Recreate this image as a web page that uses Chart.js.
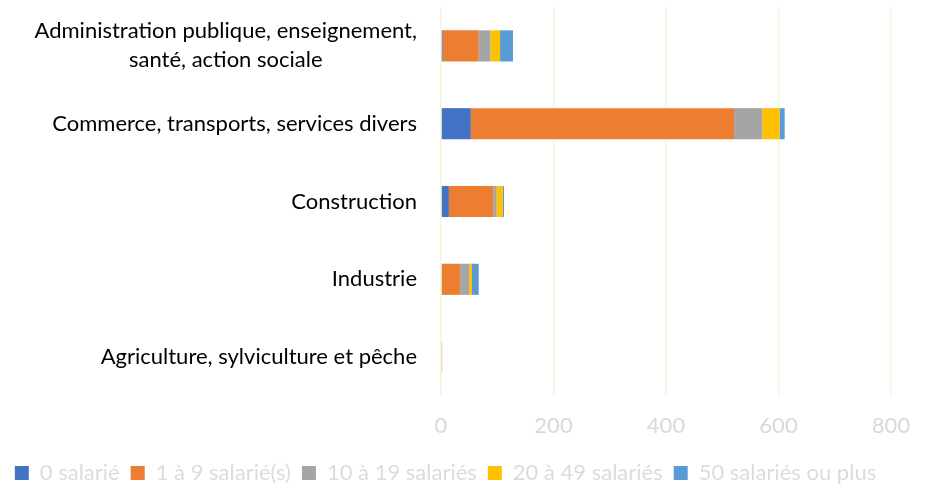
<!DOCTYPE html>
<html>
<head>
<meta charset="utf-8"/>
<title>Entreprises par secteur et taille</title>
<script src="https://cdn.jsdelivr.net/npm/chart.js@4/dist/chart.umd.min.js"></script>
<style>
 body { margin: 0; background: #fff; }
 #wrap { width: 928px; height: 489px; }
</style>
</head>
<body>
<div id="wrap"><canvas id="chart"></canvas></div>
<script>
// secteurs (du haut vers le bas)
var secteurs = [
  ['Administration publique, enseignement,', 'santé, action sociale'],
  'Commerce, transports, services divers',
  'Construction',
  'Industrie',
  'Agriculture, sylviculture et pêche'
];
var tranches = ['0 salarié', '1 à 9 salarié(s)', '10 à 19 salariés', '20 à 49 salariés', '50 salariés ou plus'];
var sal0    = [3, 53, 14, 0, 0];
var sal1a9  = [64, 468, 79, 34, 2];
var sal10a19 = [21, 50, 6, 16, 0];
var sal20a49 = [17, 31, 11, 5, 0];
var sal50p  = [23, 9, 2, 12, 0];
var xTicks = [0, 200, 400, 600, 800];

var couleurs = ['#4472C4', '#ED7D31', '#A5A5A5', '#FFC000', '#5B9BD5'];
var series = [sal0, sal1a9, sal10a19, sal20a49, sal50p];

var FONT = 'Lato, "Open Sans", sans-serif';

// draw category labels: multi-line labels centred, block right-aligned
var labelPlugin = {
  id: 'catLabels',
  afterDraw: function(chart){
    var ctx = chart.ctx;
    var y = chart.scales.y;
    var right = chart.chartArea.left - 24;
    ctx.save();
    ctx.font = '22px ' + FONT;
    ctx.fillStyle = '#000';
    ctx.textBaseline = 'middle';
    ctx.textAlign = 'center';
    secteurs.forEach(function(lab, i){
      var lines = Array.isArray(lab) ? lab : [lab];
      var w = 0;
      lines.forEach(function(l){ w = Math.max(w, ctx.measureText(l).width); });
      var cx = right - w / 2;
      var cy = y.getPixelForValue(i);
      var lh = 29;
      var y0 = cy - (lines.length - 1) * lh / 2;
      lines.forEach(function(l, k){ ctx.fillText(l, cx, y0 + k * lh); });
    });
    ctx.restore();
  }
};

new Chart(document.getElementById('chart'), {
  type: 'bar',
  data: {
    labels: secteurs,
    datasets: series.map(function(d, i){
      return {
        label: tranches[i],
        data: d,
        backgroundColor: couleurs[i],
        borderWidth: 0,
        categoryPercentage: 1,
        barPercentage: 0.4
      };
    })
  },
  options: {
    indexAxis: 'y',
    responsive: true,
    maintainAspectRatio: false,
    animation: false,
    layout: { padding: { top: 7, right: 37, left: 0, bottom: -5 } },
    scales: {
      x: {
        stacked: true,
        min: 0, max: 800,
        afterBuildTicks: function(s){ s.ticks = xTicks.map(function(v){ return { value: v }; }); },
        afterFit: function(s){ s.height = 55; },
        grid: { color: '#f3f8d6', lineWidth: 1.5, drawTicks: false },
        border: { display: false },
        ticks: { color: '#d9d9d9', font: { family: FONT, size: 22 }, padding: 17, maxRotation: 0 }
      },
      y: {
        stacked: true,
        grid: { display: false },
        border: { display: false },
        ticks: { display: false },
        afterFit: function(s){ s.width = 441; }
      }
    },
    plugins: {
      legend: {
        position: 'bottom',
        labels: {
          color: '#dcdcdc',
          font: { family: FONT, size: 22 },
          boxWidth: 14, boxHeight: 14,
          padding: 11
        }
      },
      tooltip: { enabled: false }
    }
  },
  plugins: [labelPlugin]
});
</script>
</body>
</html>
